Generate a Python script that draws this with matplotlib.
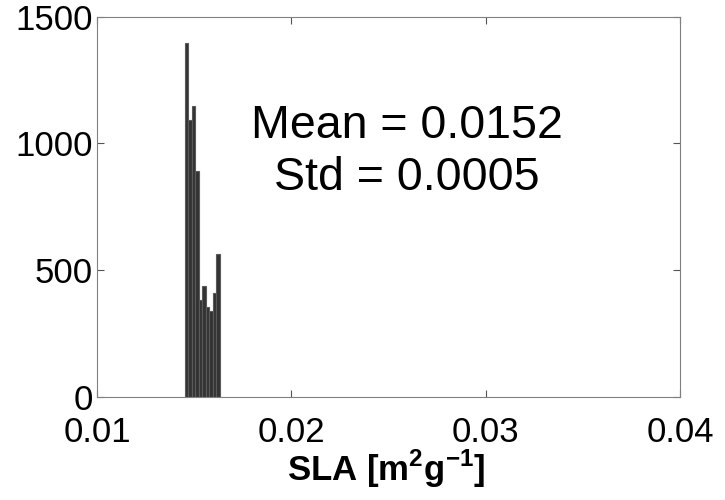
import numpy as np
import matplotlib
matplotlib.use("Agg")
import matplotlib.pyplot as plt

plt.rcParams['font.family'] = ['Liberation Sans', 'DejaVu Sans']
plt.rcParams['mathtext.fontset'] = 'custom'
plt.rcParams['mathtext.rm'] = 'Liberation Sans'
plt.rcParams['mathtext.bf'] = 'Liberation Sans:bold'

# histogram bins (left edges) and counts
bin_left = [0.01452, 0.01470, 0.01488, 0.01506, 0.01524,
            0.01542, 0.01560, 0.01578, 0.01596, 0.01614]
bin_width = 0.00018
counts = [1395, 1090, 1145, 892, 382, 438, 353, 336, 408, 561]

x_ticks = [0.01, 0.02, 0.03, 0.04]
x_labels = ['0.01', '0.02', '0.03', '0.04']
y_ticks = [0, 500, 1000, 1500]

mean_txt = "Mean = 0.0152"
std_txt = "Std = 0.0005"

fig = plt.figure(figsize=(7.25, 5), dpi=100)
ax = fig.add_axes([0.1338, 0.207, 0.804, 0.760])

ax.bar(bin_left, counts, width=bin_width, align='edge',
       facecolor='#333333', edgecolor='#5a5a5a', linewidth=0.8)

ax.set_xlim(0.01, 0.04)
ax.set_ylim(0, 1500)
ax.set_xticks(x_ticks)
ax.set_xticklabels(x_labels)
ax.set_yticks(y_ticks)

for s in ax.spines.values():
    s.set_color('#808080')
    s.set_linewidth(0.8)
ax.tick_params(direction='in', length=5, width=0.8, color='#555555',
               top=True, right=True, labelsize=25)
ax.tick_params(axis='x', pad=14)
ax.tick_params(axis='y', pad=3)

ax.set_xlabel(r'SLA [m$^{\mathbf{2}}$g$^{\mathbf{-1}}$]', fontsize=25,
              fontweight='bold')
ax.xaxis.set_label_coords(0.497, -0.135)

ax.text(0.532, 0.681, mean_txt, transform=ax.transAxes,
        ha='center', va='baseline', fontsize=33.5)
ax.text(0.532, 0.543, std_txt, transform=ax.transAxes,
        ha='center', va='baseline', fontsize=33.5)

fig.savefig('out.png', dpi=100)
